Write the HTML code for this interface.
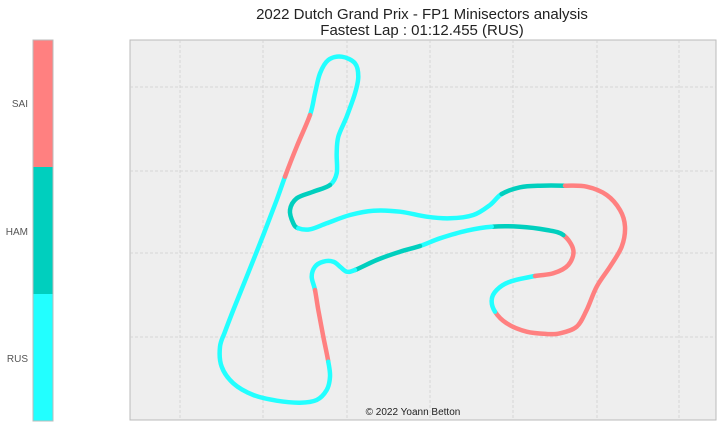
<!DOCTYPE html>
<html><head><meta charset="utf-8"><style>
body{margin:0;background:#fff;width:723px;height:428px;overflow:hidden;font-family:"Liberation Sans",sans-serif}
</style></head><body>
<svg width="723" height="428" xmlns="http://www.w3.org/2000/svg">
<g font-size="15" fill="#222" text-anchor="middle">
<text x="422" y="19">2022 Dutch Grand Prix - FP1 Minisectors analysis</text>
<text x="422" y="35">Fastest Lap : 01:12.455 (RUS)</text>
</g>
<g>
<rect x="33" y="40" width="20" height="127" fill="#ff8080"/>
<rect x="33" y="167" width="20" height="127" fill="#00cfbe"/>
<rect x="33" y="294" width="20" height="127" fill="#22ffff"/>
<rect x="33" y="40" width="20" height="381" fill="none" stroke="#bbb" stroke-width="1"/>
<g font-size="10" fill="#555" text-anchor="end">
<text x="28" y="107">SAI</text>
<text x="28" y="235">HAM</text>
<text x="28" y="362">RUS</text>
</g>
</g>
<rect x="130" y="40" width="586" height="380" fill="#eeeeee" stroke="#bbb" stroke-width="1"/>
<g id="grid" stroke="#cfcfcf" stroke-width="0.8" stroke-dasharray="3,2"></g>
<g id="track" fill="none" stroke-width="4.5" stroke-linecap="round" stroke-linejoin="round"></g>
<text x="413" y="415" font-size="10" fill="#222" text-anchor="middle">© 2022 Yoann Betton</text>
</svg>
<script>
const drivers = ["SAI","HAM","RUS"];
const driverColors = {SAI:"#ff8080",HAM:"#00cfbe",RUS:"#22ffff"};
const gridX = [180,263,347,430,513,597,679];
const gridY = [87,171,253,337];
const segDriver = ["RUS","HAM","RUS","HAM","SAI","RUS","SAI","HAM","RUS","HAM","RUS","SAI","RUS","SAI"];
const segPoints = [
[[330,225],[345,160],[360,100],[385,60],[425,50],[465,70],[475,110],[465,160],[440,230],[415,290],[410,340],[410,400],[390,435]],
[[390,435],[340,455],[290,475],[270,510],[280,550],[295,565]],
[[295,565],[330,568],[380,550],[450,525],[520,512],[600,515],[680,530],[750,535],[820,525],[870,495],[905,462]],
[[905,462],[960,442],[1020,437],[1095,437]],
[[1095,437],[1160,440],[1220,465],[1260,510],[1275,560],[1265,620],[1230,680],[1190,740],[1160,810],[1130,860],[1080,880],[1040,882],[980,875],[920,850],[885,815]],
[[885,815],[875,780],[890,750],[930,725],[1005,708]],
[[1005,708],[1060,700],[1105,675],[1120,630],[1090,585]],
[[1090,585],[1040,570],[960,560],[875,560]],
[[875,560],[800,572],[720,595],[660,618]],
[[660,618],[600,635],[530,660],[465,690]],
[[465,690],[440,695],[420,680],[400,665],[370,665],[345,680],[335,710],[345,750]],
[[345,750],[355,810],[370,890],[385,965]],
[[385,965],[390,1010],[380,1050],[350,1080],[300,1088],[230,1082],[160,1065],[100,1030],[65,980],[60,920],[75,875],[100,810],[140,710],[190,585],[230,480],[255,410]],
[[255,410],[290,320],[330,225]]
];
const NS="http://www.w3.org/2000/svg";
const sx = v => 200 + v/3, sy = v => 40 + v/3;
const grid = document.getElementById('grid');
gridX.forEach(x=>{const l=document.createElementNS(NS,'line');
l.setAttribute('x1',x);l.setAttribute('x2',x);l.setAttribute('y1',40);l.setAttribute('y2',420);


grid.appendChild(l);});
gridY.forEach(y=>{const l=document.createElementNS(NS,'line');
l.setAttribute('x1',130);l.setAttribute('x2',716);l.setAttribute('y1',y);l.setAttribute('y2',y);


grid.appendChild(l);});
// flatten loop
const all=[]; const segRange=[];
segPoints.forEach((pts,i)=>{const start=all.length; const use = pts.slice(0,-1); use.forEach(q=>all.push([sx(q[0]),sy(q[1])])); segRange.push([start, start+use.length]);});
const N=all.length;
const P=k=>all[((k%N)+N)%N];
const track=document.getElementById('track');
segRange.forEach((r,i)=>{
  let d='M'+P(r[0])[0].toFixed(1)+','+P(r[0])[1].toFixed(1);
  for(let k=r[0];k<r[1];k++){
    const p0=P(k-1),p1=P(k),p2=P(k+1),p3=P(k+2);
    const c1=[p1[0]+(p2[0]-p0[0])/6,p1[1]+(p2[1]-p0[1])/6];
    const c2=[p2[0]-(p3[0]-p1[0])/6,p2[1]-(p3[1]-p1[1])/6];
    d+=' C'+c1.map(v=>v.toFixed(1)).join(',')+' '+c2.map(v=>v.toFixed(1)).join(',')+' '+p2.map(v=>v.toFixed(1)).join(',');
  }
  const p=document.createElementNS(NS,'path');
  p.setAttribute('d',d);
  p.setAttribute('stroke',driverColors[segDriver[i]]);
  
  
  track.appendChild(p);
});
</script>
</body></html>
